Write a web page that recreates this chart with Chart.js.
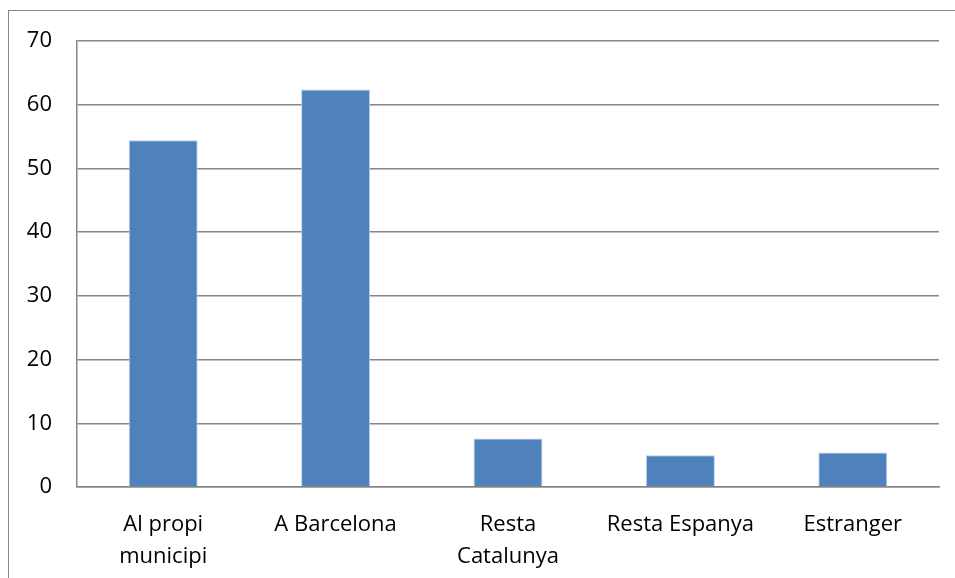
<!DOCTYPE html>
<html>
<head>
<meta charset="utf-8">
<script src="https://cdn.jsdelivr.net/npm/chart.js@4/dist/chart.umd.min.js"></script>
<style>
    html, body { margin: 0; padding: 0; background: #fff; overflow: hidden; }
    #wrap { position: relative; width: 955px; height: 578px; }
    #frame { position: absolute; left: 8px; top: 10px; width: 960px; height: 600px; border: 1px solid #868686; box-sizing: border-box; }
    canvas { position: absolute; left: 0; top: 0; }
</style>
</head>
<body>
<div id="wrap">
    <div id="frame"></div>
    <canvas id="chartDestinacio" width="955" height="578"></canvas>
</div>
<script>
const categories = [['Al propi', 'municipi'], 'A Barcelona', ['Resta', 'Catalunya'], 'Resta Espanya', 'Estranger'];
const values = [54.4, 62.4, 7.6, 5.0, 5.4];
const yTicks = [0, 10, 20, 30, 40, 50, 60, 70];

const font = { family: "'Open Sans', sans-serif", size: 22, lineHeight: 1.45 };

new Chart(document.getElementById('chartDestinacio'), {
    type: 'bar',
    data: {
        labels: categories,
        datasets: [{
            data: values,
            backgroundColor: '#4F81BD',
            borderColor: '#B9CDE5',
            borderWidth: { top: 1, left: 1, right: 1, bottom: 0 },
            categoryPercentage: 1,
            barPercentage: 0.4,
        }]
    },
    options: {
        responsive: false,
        animation: false,
        layout: { padding: { left: 0, right: 16, top: 38, bottom: 0 } },
        plugins: { legend: { display: false }, tooltip: { enabled: false } },
        scales: {
            x: {
                grid: { display: false, drawTicks: false },
                border: { color: '#868686', width: 1.5 },
                ticks: { color: '#000', font: font, padding: 22, maxRotation: 0, autoSkip: false },
                afterFit: s => { s.height = 91; },
            },
            y: {
                min: 0,
                max: 70,
                afterBuildTicks: s => { s.ticks = yTicks.map(v => ({ value: v })); },
                grid: { color: '#868686', lineWidth: 1.5, drawTicks: false },
                border: { color: '#868686', width: 1.5 },
                ticks: { color: '#000', font: font, padding: 25 },
                afterFit: s => { s.width = 77; },
            }
        }
    }
});
</script>
</body>
</html>
